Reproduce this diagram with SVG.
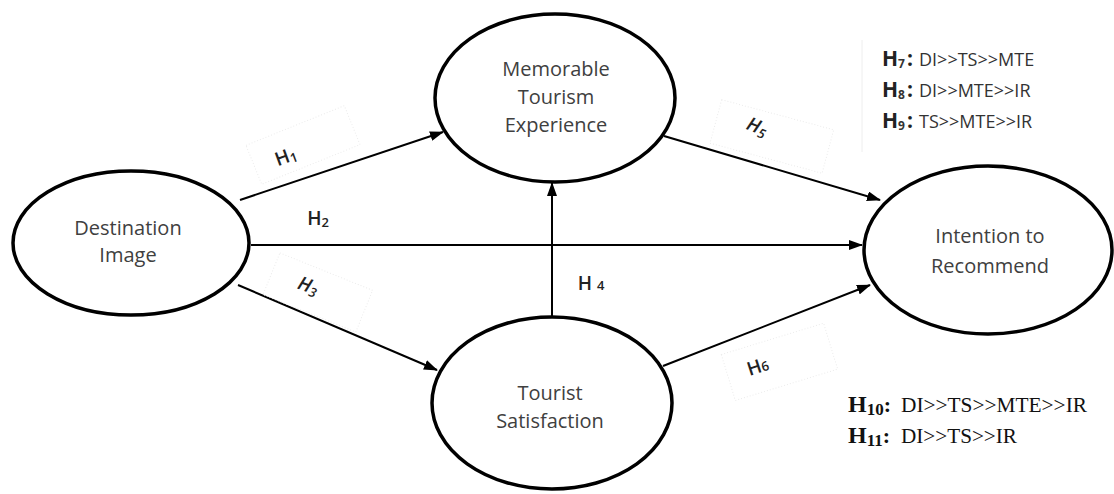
<svg xmlns="http://www.w3.org/2000/svg" width="1114" height="494" viewBox="0 0 1114 494">
<defs>
<style>
.node{fill:#fff;stroke:#000;stroke-width:3.5}
.nt{font-family:"Open Sans","Liberation Sans",sans-serif;font-size:20px;fill:#404040;text-anchor:middle}
.edge{stroke:#000;stroke-width:2;fill:none;marker-end:url(#ah)}
.lbl{font-family:"Open Sans","Liberation Sans",sans-serif;font-size:19px;font-weight:600;fill:#222}
.sub{font-size:13px}
.box{fill:none;stroke:#ebebeb;stroke-width:1;stroke-dasharray:1 2}
.hy{font-family:"Open Sans","Liberation Sans",sans-serif;font-size:18px;fill:#333}
.hyb{font-weight:700;fill:#222;font-size:21px}
.ser{font-family:"Liberation Serif","Times New Roman",serif;font-size:22px;fill:#111}
</style>
<marker id="ah" viewBox="0 0 14 10" refX="13" refY="5" markerWidth="14" markerHeight="10" markerUnits="userSpaceOnUse" orient="auto">
<path d="M0,0 L14,5 L0,10 z" fill="#000"/>
</marker>
</defs>
<rect width="1114" height="494" fill="#fff"/>

<g id="connectors">
<line class="edge" x1="240" y1="200" x2="443" y2="132"/>
<line class="edge" x1="251" y1="245" x2="862" y2="245"/>
<line class="edge" x1="238" y1="285" x2="437" y2="370"/>
<line class="edge" x1="552" y1="317" x2="552" y2="183"/>
<line class="edge" x1="664" y1="136" x2="880" y2="200"/>
<line class="edge" x1="663" y1="366" x2="870" y2="285"/>
</g>

<g id="labels">
<rect class="box" x="-53" y="-21" width="106" height="42" transform="translate(303,145) rotate(-22)"/>
<text class="lbl" x="286" y="163" text-anchor="middle" transform="rotate(-20 286 157)">H<tspan class="sub" dy="2">1</tspan></text>
<text class="lbl" x="318" y="225" text-anchor="middle">H<tspan class="sub" dy="2">2</tspan></text>
<rect class="box" x="-50" y="-22" width="100" height="45" transform="translate(318,292) rotate(22)"/>
<text class="lbl" x="308" y="292" text-anchor="middle" font-style="italic" transform="rotate(20 308 286)">H<tspan class="sub" dy="3">3</tspan></text>
<text class="lbl" x="591" y="290" text-anchor="middle">H <tspan class="sub">4</tspan></text>
<rect class="box" x="-58" y="-22" width="116" height="45" transform="translate(772,136) rotate(15)"/>
<text class="lbl" x="757" y="133" text-anchor="middle" font-style="italic" transform="rotate(22 757 127)">H<tspan class="sub" dy="3">5</tspan></text>
<rect class="box" x="-53" y="-24" width="107" height="48" transform="translate(779,362) rotate(-17)"/>
<text class="lbl" x="758" y="373" text-anchor="middle" transform="rotate(-18 758 367)">H<tspan class="sub">6</tspan></text>
</g>

<g id="node-di">
<ellipse class="node" cx="131" cy="243" rx="118" ry="72"/>
<text class="nt" x="128" y="235">Destination</text>
<text class="nt" x="128" y="262">Image</text>
</g>
<g id="node-mte">
<ellipse class="node" cx="555" cy="98" rx="120" ry="84"/>
<text class="nt" x="556" y="76">Memorable</text>
<text class="nt" x="556" y="104">Tourism</text>
<text class="nt" x="556" y="132">Experience</text>
</g>
<g id="node-ts">
<ellipse class="node" cx="552" cy="403" rx="120" ry="86"/>
<text class="nt" x="550" y="400">Tourist</text>
<text class="nt" x="550" y="428">Satisfaction</text>
</g>
<g id="node-ir">
<ellipse class="node" cx="988" cy="250" rx="124" ry="84"/>
<text class="nt" x="990" y="243" font-size="22">Intention to</text>
<text class="nt" x="990" y="273" font-size="22">Recommend</text>
</g>

<g id="hypotheses-mediation">
<line x1="862" y1="40" x2="862" y2="152" stroke="#eeeeee" stroke-width="1"/>
<text class="hy" x="882" y="66"><tspan class="hyb">H</tspan><tspan font-size="12" font-weight="700" dy="2">7</tspan><tspan class="hyb" dy="-2" dx="2">:</tspan><tspan x="919">DI&gt;&gt;TS&gt;&gt;MTE</tspan></text>
<text class="hy" x="882" y="97"><tspan class="hyb">H</tspan><tspan font-size="12" font-weight="700" dy="2">8</tspan><tspan class="hyb" dy="-2" dx="2">:</tspan><tspan x="919">DI&gt;&gt;MTE&gt;&gt;IR</tspan></text>
<text class="hy" x="882" y="128"><tspan class="hyb">H</tspan><tspan font-size="12" font-weight="700" dy="2">9</tspan><tspan class="hyb" dy="-2" dx="2">:</tspan><tspan x="919">TS&gt;&gt;MTE&gt;&gt;IR</tspan></text>
</g>

<g id="hypotheses-serial">
<text class="ser" x="848" y="412"><tspan font-weight="700" font-size="24">H</tspan><tspan font-size="17" font-weight="700" dy="3">10</tspan><tspan font-weight="700" dy="-3">:</tspan></text>
<text class="ser" x="901" y="412" textLength="186" lengthAdjust="spacingAndGlyphs">DI&gt;&gt;TS&gt;&gt;MTE&gt;&gt;IR</text>
<text class="ser" x="848" y="443"><tspan font-weight="700" font-size="24">H</tspan><tspan font-size="17" font-weight="700" dy="3">11</tspan><tspan font-weight="700" dy="-3">:</tspan></text>
<text class="ser" x="901" y="443" textLength="116" lengthAdjust="spacingAndGlyphs">DI&gt;&gt;TS&gt;&gt;IR</text>
</g>
</svg>
